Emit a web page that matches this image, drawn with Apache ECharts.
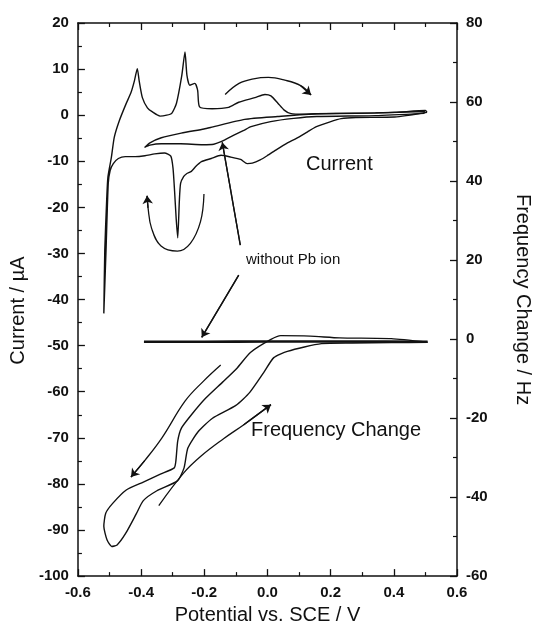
<!DOCTYPE html>
<html>
<head>
<meta charset="utf-8">
<script src="https://cdn.jsdelivr.net/npm/echarts/dist/echarts.min.js"></script>
<style>
  html, body { margin: 0; padding: 0; background: #fff; }
  #main { width: 541px; height: 630px; }
</style>
</head>
<body>
<div id="main"></div>
<script>
// cyclic voltammogram with Pb (cathodic sweep from 0.5 V, then anodic back)
const cvPotential = [0.505, 0.403, 0.280, 0.233, 0.196, 0.155, 0.127, 0.093, 0.061, 0.030, -0.001, -0.023, -0.048, -0.064,
  -0.085, -0.116, -0.147, -0.178, -0.209, -0.228, -0.241, -0.256, -0.265, -0.275, -0.279, -0.284, -0.289, -0.294, -0.299,
  -0.306, -0.326, -0.357, -0.388, -0.419, -0.450, -0.472, -0.488, -0.498, -0.504, -0.511, -0.518,
  -0.515, -0.509, -0.505, -0.494, -0.485, -0.469, -0.448, -0.432, -0.421, -0.412, -0.406, -0.396, -0.380, -0.364, -0.340,
  -0.319, -0.303, -0.288, -0.271, -0.261, -0.255, -0.246, -0.230, -0.221, -0.215, -0.175, -0.123, -0.091, -0.040, -0.008,
  0.011, 0.033, 0.053, 0.072, 0.115, 0.156, 0.280, 0.403, 0.500, 0.505];
const cvCurrent = [0.6, -0.4, -0.5, -0.75, -1.5, -2.5, -3.6, -5.0, -6.1, -7.4, -8.8, -9.7, -10.4, -10.5,
  -9.6, -9.1, -8.7, -9.4, -10.1, -11.2, -12.2, -12.7, -13.3, -14.8, -18.7, -26.6, -22.4, -16.5, -11.5,
  -8.9, -8.2, -8.4, -8.8, -9.0, -9.0, -9.4, -10.5, -12.0, -14.8, -29.3, -43.0,
  -29.3, -18.4, -13.4, -9.1, -4.8, -1.2, 2.4, 4.9, 7.5, 10.1, 7.4, 3.8, 1.6, 0.7, -0.2,
  0.0, 0.4, 2.6, 8.7, 13.7, 8.7, 6.5, 6.9, 5.4, 1.8, 1.4, 1.7, 2.8, 3.8, 4.5,
  4.2, 2.6, 1.1, 0.4, 0.2, 0.3, 0.4, 0.6, 1.0, 0.6];

// cyclic voltammogram without Pb ion
const blankPotential = [0.496, 0.342, 0.156, 0.083, 0.010, -0.052, -0.075, -0.108, -0.145, -0.170, -0.205, -0.275, -0.336,
  -0.372, -0.389, -0.372, -0.336, -0.273, -0.201, -0.176, -0.072, 0.032, 0.156, 0.342, 0.497, 0.496];
const blankCurrent = [0.4, -0.1, -0.3, -0.7, -1.4, -2.5, -3.3, -4.4, -5.7, -6.3, -6.4, -6.2, -6.2,
  -6.5, -7.0, -6.0, -4.9, -3.9, -3.0, -2.6, -0.9, -0.3, 0.3, 0.5, 0.8, 0.4];

// frequency change with Pb
const qcmPotential = [0.507, 0.392, 0.228, 0.135, 0.042, 0.011, -0.054, -0.098, -0.142, -0.196, -0.240, -0.272, -0.284,
  -0.290, -0.295, -0.339, -0.393, -0.447, -0.490, -0.512, -0.518, -0.508, -0.493, -0.476, -0.449, -0.415, -0.393,
  -0.350, -0.285, -0.264, -0.252, -0.219, -0.175, -0.100, -0.056, -0.012, 0.020, 0.063, 0.171, 0.268, 0.392, 0.507];
const qcmFreq = [-0.8, 0.1, 0.3, 0.75, 0.86, -0.1, -3.4, -7.5, -10.9, -15.0, -19.1, -22.5, -25.8,
  -30.9, -32.6, -34.2, -36.2, -38.2, -41.6, -44.1, -47.4, -50.8, -52.5, -52.1, -49.2, -44.2, -40.9,
  -38.4, -35.9, -32.6, -27.6, -23.4, -20.1, -16.8, -13.5, -8.5, -4.7, -3.1, -1.15, -1.0, -0.9, -0.8];

// frequency change without Pb ion
const blankQcmPotential = [-0.391, -0.2, 0.0, 0.25, 0.507];
const blankQcmFreq = [-0.7, -0.7, -0.6, -0.6, -0.7];

// annotation arrows (potential, current axis units)
const arrowTopV = [-0.134, -0.090, -0.044, 0.003, 0.055, 0.105, 0.138];
const arrowTopI = [4.5, 6.9, 7.9, 8.2, 7.6, 6.4, 4.4];
const arrowUV = [-0.201, -0.212, -0.244, -0.285, -0.337, -0.367, -0.378, -0.381];
const arrowUI = [-17.1, -23.1, -27.8, -29.5, -28.4, -24.5, -20.1, -17.5];
const arrowLoopV = [-0.086, -0.143];
const arrowLoopI = [-28.2, -5.9];
const arrowFlatV = [-0.091, -0.208];
const arrowFlatI = [-34.7, -48.2];
const arrowDownV = [-0.148, -0.204, -0.261, -0.334, -0.388, -0.432];
const arrowDownI = [-54.2, -57.8, -62.05, -70.0, -74.9, -78.5];
const arrowUpV = [-0.344, -0.265, -0.211, -0.139, -0.076, 0.011];
const arrowUpI = [-84.7, -77.6, -74.0, -70.2, -67.2, -62.8];

const zip = (xs, ys) => xs.map((x, i) => [x, ys[i]]);
const FONT = '"Liberation Sans", Arial, sans-serif';
const INK = '#111';

function curve(name, xs, ys, yIndex, width) {
  return {
    name: name,
    type: 'line',
    yAxisIndex: yIndex,
    data: zip(xs, ys),
    showSymbol: false,
    symbol: 'none',
    smooth: 0.2,
    silent: true,
    lineStyle: { color: INK, width: width || 1.4 },
    z: 3
  };
}

function arrow(xs, ys) {
  let s = curve('', xs, ys, 0, 1.3);
  let n = xs.length;
  s.smooth = 0.4;
  s.markLine = {
    silent: true,
    symbol: ['none', 'arrow'],
    symbolSize: 8,
    label: { show: false },
    lineStyle: { color: INK, type: 'solid', width: 1.3 },
    data: [[{ coord: [xs[n - 2], ys[n - 2]] }, { coord: [xs[n - 1], ys[n - 1]] }]]
  };
  return s;
}

function xLabel(v) {
  if (Math.abs(v) < 1e-9) return '0.0';
  return v.toFixed(1);
}

let axisCommon = {
  axisLine: { show: true, onZero: false, lineStyle: { color: INK, width: 1.5 } },
  axisTick: { show: true, inside: true, length: 7, lineStyle: { color: INK, width: 1.3 } },
  minorTick: { show: true, splitNumber: 2, length: 4, lineStyle: { color: INK, width: 1.2 } },
  splitLine: { show: false },
  minorSplitLine: { show: false },
  axisLabel: { color: INK, fontFamily: FONT, fontSize: 15, fontWeight: 'bold', margin: 9 },
  nameTextStyle: { color: INK, fontFamily: FONT, fontSize: 20 }
};

let chart = echarts.init(document.getElementById('main'));
let option = {
  animation: false,
  backgroundColor: '#fff',
  textStyle: { fontFamily: FONT },
  grid: { left: 75, right: 79, top: 23, bottom: 53 },
  xAxis: [
    Object.assign({}, axisCommon, {
      type: 'value', position: 'bottom', min: -0.6, max: 0.6, interval: 0.2,
      axisLabel: Object.assign({}, axisCommon.axisLabel, { formatter: xLabel }),
      name: 'Potential vs. SCE / V', nameLocation: 'middle', nameGap: 28
    }),
    Object.assign({}, axisCommon, {
      type: 'value', position: 'top', min: -0.6, max: 0.6, interval: 0.2,
      axisLabel: { show: false }
    })
  ],
  yAxis: [
    Object.assign({}, axisCommon, {
      type: 'value', position: 'left', min: -100, max: 20, interval: 10,
      name: 'Current / µA', nameLocation: 'middle', nameRotate: 90, nameGap: 46,
      nameTextStyle: Object.assign({}, axisCommon.nameTextStyle, { padding: [0, 22, 0, 0] })
    }),
    Object.assign({}, axisCommon, {
      type: 'value', position: 'right', min: -60, max: 80, interval: 20,
      name: 'Frequency Change / Hz', nameLocation: 'middle', nameRotate: -90, nameGap: 56
    })
  ],
  graphic: [
    { type: 'text', left: 306, top: 154, style: { text: 'Current', font: '20px ' + FONT, fill: INK } },
    { type: 'text', left: 246, top: 252, style: { text: 'without Pb ion', font: '15px ' + FONT, fill: INK } },
    { type: 'text', left: 251, top: 420, style: { text: 'Frequency Change', font: '20px ' + FONT, fill: INK } }
  ],
  series: [
    curve('Current', cvPotential, cvCurrent, 0),
    curve('Current without Pb ion', blankPotential, blankCurrent, 0),
    curve('Frequency Change', qcmPotential, qcmFreq, 1),
    curve('Frequency Change without Pb ion', blankQcmPotential, blankQcmFreq, 1, 2.6),
    arrow(arrowTopV, arrowTopI),
    arrow(arrowUV, arrowUI),
    arrow(arrowLoopV, arrowLoopI),
    arrow(arrowFlatV, arrowFlatI),
    arrow(arrowDownV, arrowDownI),
    arrow(arrowUpV, arrowUpI)
  ]
};
chart.setOption(option);
</script>
</body>
</html>
